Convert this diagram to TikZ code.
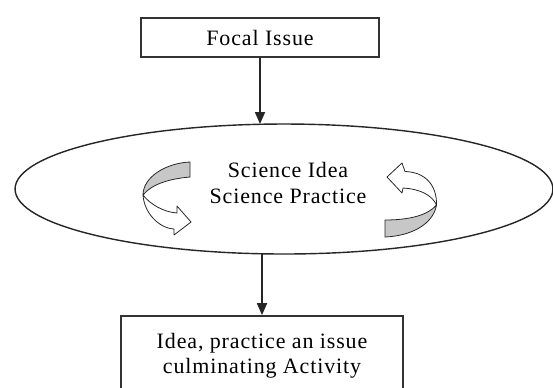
\documentclass[tikz,border=0pt]{standalone}
\usepackage{fontspec}
\setmainfont{Liberation Serif}[LetterSpace=4]
\usetikzlibrary{arrows.meta,shapes.geometric}

\begin{document}
\begin{tikzpicture}[x=0.02cm,y=-0.02cm,
% common options for the boxes:
block/.style = {draw=black!80, line width=1pt, align=center,
            font=\fontsize{12.5}{14.5}\selectfont, inner sep=0},
% down arrows between the stages:
link/.style = {line width=1pt, draw=black!85,
            -{Triangle[length=0.24cm,width=0.2cm]}},
% the turning ribbons inside the ellipse:
ribbon/.style = {draw=black!85, line width=0.45pt, line join=round}]
\useasboundingbox (0,0) rectangle (553,387);
\clip (0,0) rectangle (553,387);
\node[block, minimum width=4.76cm, minimum height=0.78cm] (focal) at (260,37.5) {Focal Issue};
\node[ellipse, draw=black!85, line width=0.8pt, minimum width=10.76cm,
      minimum height=2.6cm, inner sep=0, outer sep=0] (cycle) at (284,189) {};
\node[align=center, font=\fontsize{12.5}{14.5}\selectfont] (science) at (288,183)
      {Science Idea\\Science Practice};
\node[block, minimum width=5.64cm, minimum height=1.58cm] (result) at (262,355.5)
      {Idea, practice an issue\\culminating Activity};
\draw[link] (focal.south) -- (focal.south |- cycle.north);
\draw[link] (result.north |- cycle.south) -- (result.north);
% left ribbon: back face on top, front face with head at the bottom
\draw[ribbon, fill=black!22] (190,162) -- (190,177)
      .. controls (167,179) and (151,185) .. (143,195)
      .. controls (143,177) and (166,163) .. cycle;
\draw[ribbon, fill=white] (143,195)
      .. controls (150,204) and (163,212) .. (177,213) -- (177,206)
      -- (191,222) -- (174,235) -- (174,229)
      .. controls (158,228) and (144,212) .. cycle;
% right ribbon: back face at the bottom, front face with head on top
\draw[ribbon, fill=black!22] (385,220) -- (385,237)
      .. controls (410,236) and (433,225) .. (436.5,205)
      .. controls (428,215) and (410,220) .. cycle;
\draw[ribbon, fill=white] (436.5,205)
      .. controls (437,185) and (425,172) .. (405,171.5) -- (402,163)
      -- (387,177) -- (402,193) -- (403,188)
      .. controls (420,189) and (432,195) .. cycle;
\end{tikzpicture}
\end{document}
